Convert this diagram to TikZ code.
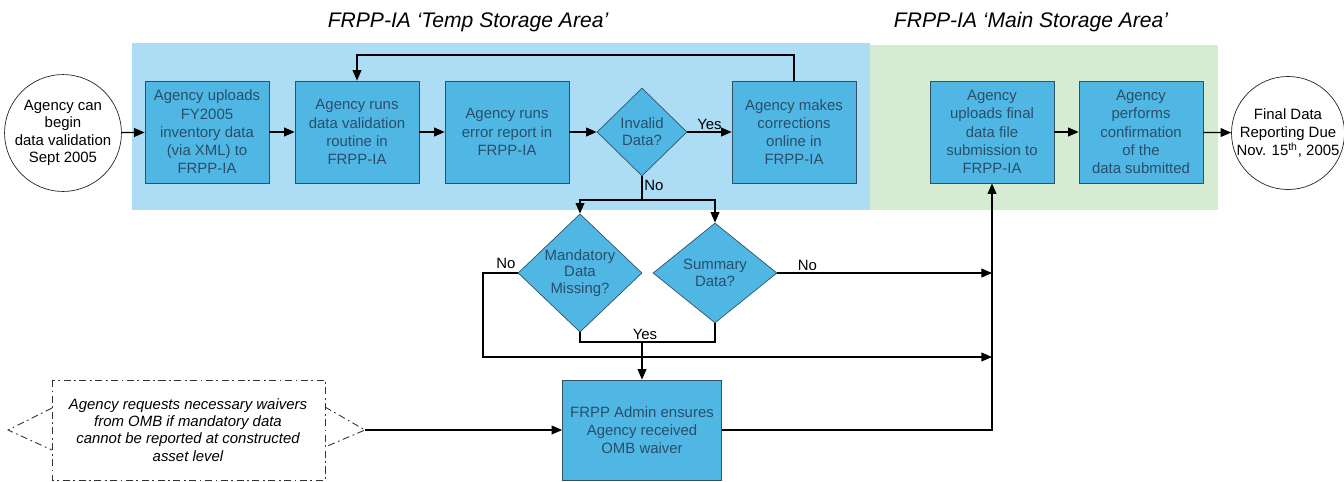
\documentclass[tikz,border=0pt]{standalone}
\usepackage{fontspec}
\setmainfont{Liberation Sans}
\usetikzlibrary{shapes.geometric, arrows.meta, positioning}
\definecolor{tempblue}{RGB}{172,221,245}
\definecolor{maingreen}{RGB}{214,236,210}
\definecolor{boxblue}{RGB}{80,183,228}
\definecolor{boxline}{RGB}{50,82,100}
\definecolor{boxtext}{RGB}{42,78,105}
\begin{document}
\begin{tikzpicture}[x=0.02cm, y=-0.02cm,
        process/.style={rectangle, draw=boxline, fill=boxblue, text=boxtext, minimum width=2.48cm, minimum height=2.04cm, font=\fontsize{8.5}{10.4}\selectfont, align=center, inner sep=1pt},
        decision/.style={diamond, draw=boxline, fill=boxblue, text=boxtext, font=\fontsize{8.5}{9.6}\selectfont, align=center, inner sep=0pt},
        terminal/.style={circle, draw=black!85, fill=white, minimum size=2.2cm, font=\fontsize{8.5}{10}\selectfont, align=center, inner sep=0pt},
        areatitle/.style={font=\fontsize{12}{14}\selectfont\itshape},
        answer/.style={font=\fontsize{8.5}{10}\selectfont, inner sep=1pt},
        arrow/.style={-{Triangle[length=6pt, width=5pt]}, line width=0.7pt},
        link/.style={line width=0.7pt},
        callout/.style={draw=black!80, line width=0.5pt, dash pattern=on 4pt off 2pt on 1pt off 2pt}
    ]
    \useasboundingbox (0,0) rectangle (1344,481);

    % Storage areas
    \fill[tempblue] (132,43) rectangle (870,210);
    \fill[maingreen] (870,45) rectangle (1218,210);
    \node[areatitle] (temptitle) at (468,22) {FRPP-IA `Temp Storage Area'};
    \node[areatitle] (maintitle) at (1031,22) {FRPP-IA `Main Storage Area'};

    % Steps
    \node[terminal] (begin) at (63,133) {Agency can\\begin\\data validation\\Sept 2005};
    \node[process] (upload) at (207,132) {Agency uploads\\FY2005\\inventory data\\(via XML) to\\FRPP-IA};
    \node[process] (validate) at (357,132) {Agency runs\\data validation\\routine in\\FRPP-IA};
    \node[process] (errrep) at (507,132) {Agency runs\\error report in\\FRPP-IA};
    \node[decision, minimum width=1.8cm, minimum height=1.76cm] (invalid) at (642,132) {Invalid\\Data?};
    \node[process] (correct) at (794,132) {Agency makes\\corrections\\online in\\FRPP-IA};
    \node[process] (final) at (992,132) {Agency\\uploads final\\data file\\submission to\\FRPP-IA};
    \node[process] (confirm) at (1141,132) {Agency\\performs\\confirmation\\of the\\data submitted};
    \node[terminal] (due) at (1288,133) {Final Data\\Reporting Due\\Nov. 15\textsuperscript{th}, 2005};

    \node[decision, minimum width=2.48cm, minimum height=2cm] (mandatory) at (580,273) {Mandatory\\Data\\Missing?};
    \node[decision, minimum width=2.48cm, minimum height=2cm] (summary) at (715,273) {Summary\\Data?};
    \node[process, minimum width=3.18cm, minimum height=2cm] (admin) at (642,430) {FRPP Admin ensures\\Agency received\\OMB waiver};

    % Waiver note
    \node[font=\fontsize{8.5}{9.8}\selectfont\itshape, align=center] (waiver) at (188,430) {Agency requests necessary waivers\\from OMB if mandatory data\\cannot be reported at constructed\\asset level};
    \draw[callout] (52,380) rectangle (325,480);
    \draw[callout] (52,408) -- (8,430) -- (52,450);
    \draw[callout] (325,407) -- (365,430) -- (325,447);
    \coordinate (waivertip) at (365,430);

    % Bend points
    \coordinate (looptop) at (794,55);
    \coordinate (split) at (642,200);
    \coordinate (yesjoin) at (642,342);
    \coordinate (nobend) at (483,357);

    % Transitions
    \draw[arrow] (begin) -- (upload);
    \draw[arrow] (upload) -- (validate);
    \draw[arrow] (validate) -- (errrep);
    \draw[arrow] (errrep) -- (invalid);
    \draw[arrow] (invalid) -- node[answer, above] {Yes} (correct);
    \draw[arrow] (correct.north) -- (looptop) -| (validate.north);
    \draw[link] (invalid.south) -- node[answer, right, pos=0.4] {No} (split);
    \draw[arrow] (split) -| (mandatory.north);
    \draw[arrow] (split) -| (summary.north);
    \draw[link] (mandatory.south) |- (yesjoin) -| (summary.south);
    \node[answer, above] at (645,342) {Yes};
    \draw[arrow] (yesjoin) -- (admin.north);
    \draw[arrow] (mandatory.west) -| (nobend) -- (nobend -| final.south);
    \node[answer] at (506,263) {No};
    \draw[arrow] (summary.east) -- node[answer, above, pos=0.14] {No} (summary.east -| final.south);
    \draw[arrow] (waivertip) -- (admin.west);
    \draw[arrow] (admin.east) -| (final.south);
    \draw[arrow] (final) -- (confirm);
    \draw[arrow] (confirm) -- (due);

\end{tikzpicture}
\end{document}
